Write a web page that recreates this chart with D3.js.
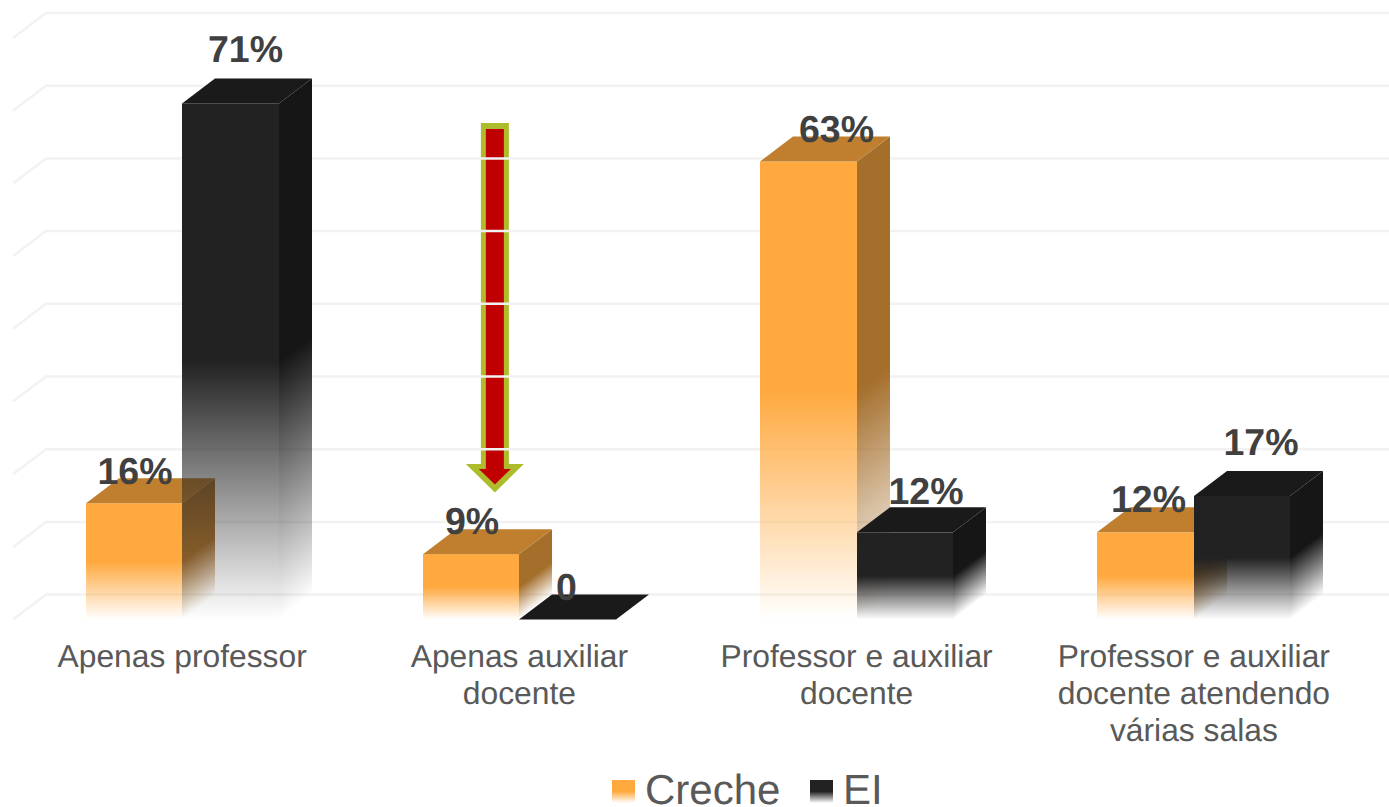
<!DOCTYPE html>
<html><head><meta charset="utf-8">
<style>html,body{margin:0;padding:0;background:#fff;overflow:hidden}svg{display:block}text{font-family:"Liberation Sans",Arial,sans-serif;text-rendering:geometricPrecision}</style>
<script src="https://cdn.jsdelivr.net/npm/d3@7"></script>
</head><body><svg id="c" width="1389" height="807"></svg>
<script>
const categories = ["Apenas professor","Apenas auxiliar docente","Professor e auxiliar docente","Professor e auxiliar docente atendendo várias salas"];
const seriesNames = ["Creche","EI"];
const creche = [16,9,63,12];
const ei = [71,0,12,17];
const crecheLabels = ["16%","9%","63%","12%"];
const eiLabels = ["71%","0","12%","17%"];
const gridTicks = [0,10,20,30,40,50,60,70,80];
const categoryLines = [["Apenas professor"],["Apenas auxiliar","docente"],["Professor e auxiliar","docente"],["Professor e auxiliar","docente atendendo","várias salas"]];

// layout
const W=1389, H=807, baseY=619.6, depthX=33, depthY=25;
const crecheNudge=[[1,6],[1,5],[28,5],[3,5]];
const eiNudge=[[15,-16],[-1,5],[21,-3],[19,-16]];
const colors={Creche:{front:"#FFA93F",top:"#BF7F2E",side:"#A46E2B"},EI:{front:"#222222",top:"#1A1A1A",side:"#161616"}};

const svg=d3.select("#c");
const defs=svg.append("defs");
const x=d3.scaleBand().domain(categories).range([13.5,1362.5]).paddingInner(0).paddingOuter(0);
const xs=d3.scaleBand().domain(seriesNames).range([0,x.bandwidth()]).paddingInner(0).paddingOuter(0.747);
const y=d3.scaleLinear().domain([0,80]).range([baseY,baseY-581.6]);

// arrow annotation (under the grid, so the grid lines cross it)
const ax=x(categories[1])+x.bandwidth()/2-24.5;
const arrowOuter=[[-14,123],[14,123],[14,464],[29,464],[0,492.5],[-29,464],[-14,464]];
const arrowInner=[[-9,129],[9,129],[9,469],[16,469],[0,484.5],[-16,469],[-9,469]];
const poly=p=>p.map(d=>[d[0]+ax,d[1]].join(",")).join(" ");
svg.append("polygon").attr("points",poly(arrowOuter)).attr("fill","#AEBC2C");
svg.append("polygon").attr("points",poly(arrowInner)).attr("fill","#C00000");

// grid: floor/wall lines
const grid=svg.append("g").attr("stroke","#F2F2F2").attr("stroke-width",2.5).attr("fill","none");
grid.selectAll("path").data(gridTicks).join("path")
  .attr("d",t=>`M13,${y(t)} L${13+depthX},${y(t)-depthY} L${W},${y(t)-depthY}`);

function fadeGrad(id,color,px,py,h,skew){
  const k=skew?(depthX*h)/(depthX*depthX+depthY*depthY):0;
  const g=defs.append("linearGradient").attr("id",id).attr("gradientUnits","userSpaceOnUse")
    .attr("x1",px).attr("y1",py)
    .attr("x2",skew?px+depthY*k:px).attr("y2",skew?py+depthX*k:py+h);
  g.append("stop").attr("offset",0).attr("stop-color",color).attr("stop-opacity",1);
  g.append("stop").attr("offset",0.5).attr("stop-color",color).attr("stop-opacity",1);
  g.append("stop").attr("offset",1).attr("stop-color",color).attr("stop-opacity",0);
  return `url(#${id})`;
}

const bars=svg.append("g");
const labelData=[];
seriesNames.forEach((name,si)=>{
  const vals=si===0?creche:ei, c=colors[name], g=bars.append("g").attr("class","series-"+name);
  const items=categories.map((cat,i)=>({cat,i,v:vals[i]}));
  const item=g.selectAll("g").data(items).join("g");
  item.each(function(d){
    const s=d3.select(this);
    const x0=Math.round(x(d.cat)+xs(name)), x1=Math.round(x(d.cat)+xs(name)+xs.bandwidth()), w=x1-x0, top=y(d.v), h=baseY-top;
    if(h>0){
      s.append("rect").attr("x",x0).attr("y",top).attr("width",w).attr("height",h)
        .attr("fill",fadeGrad(`f${si}${d.i}`,c.front,x0,top,h,false));
      s.append("polygon").attr("points",[[x1,top],[x1+depthX,top-depthY],[x1+depthX,baseY-depthY],[x1,baseY]].join(" "))
        .attr("fill",fadeGrad(`s${si}${d.i}`,c.side,x1,top,h,true));
    }
    s.append("polygon").attr("points",[[x0,top],[x0+depthX,top-depthY],[x1+depthX,top-depthY],[x1,top]].join(" "))
      .attr("fill",c.top);
    const nudge=(si===0?crecheNudge:eiNudge)[d.i];
    labelData.push({t:(si===0?crecheLabels:eiLabels)[d.i],x:x0+w/2+nudge[0],y:top+nudge[1]-depthY});
  });
});

// value labels
svg.append("g").selectAll("text").data(labelData).join("text")
  .attr("x",d=>d.x).attr("y",d=>d.y).attr("text-anchor","middle")
  .attr("font-size",37.5).attr("font-weight","bold").attr("fill","#404040").text(d=>d.t);

// category axis
const axis=d3.axisBottom(x).tickSize(0).tickPadding(0);
const ag=svg.append("g").attr("transform","translate(0,619)").call(axis);
ag.select(".domain").remove();
ag.selectAll(".tick text").each(function(d,i){
  const t=d3.select(this).text(null).attr("y",0).attr("dy",null).attr("font-size",31.8)
    .attr("font-family",'"Liberation Sans",Arial,sans-serif').attr("fill","#595959");
  categoryLines[i].forEach((l,j)=>t.append("tspan").attr("x",0).attr("y",48+j*37).text(l));
});

// legend
const legendX={Creche:[612,645],EI:[810,843]};
seriesNames.forEach(name=>{
  const id="leg"+name;
  const g=defs.append("linearGradient").attr("id",id).attr("x1",0).attr("y1",0).attr("x2",0).attr("y2",1);
  g.append("stop").attr("offset",0.5).attr("stop-color",colors[name].front).attr("stop-opacity",1);
  g.append("stop").attr("offset",1).attr("stop-color",colors[name].front).attr("stop-opacity",0);
  svg.append("rect").attr("x",legendX[name][0]).attr("y",780).attr("width",23).attr("height",23).attr("fill",`url(#${id})`);
  svg.append("text").attr("x",legendX[name][1]).attr("y",804).attr("font-size",42).attr("fill","#595959").text(name);
});
</script></body></html>
